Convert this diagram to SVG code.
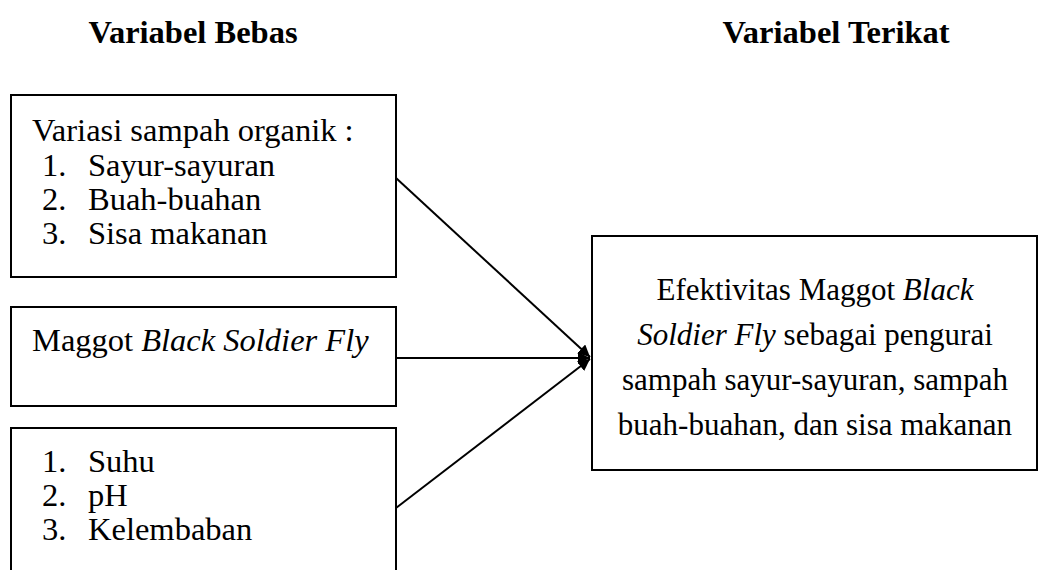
<svg xmlns="http://www.w3.org/2000/svg" width="1039" height="570" viewBox="0 0 1039 570">
<style>
text{font-family:"Liberation Serif","Times New Roman",serif;font-size:32.5px;fill:#000}
.r text{font-size:31px}
.h{font-weight:bold}
.i{font-style:italic}
.box{fill:#fff;stroke:#000;stroke-width:2}
.c{stroke:#000;stroke-width:2;fill:none}
</style>
<defs>
<marker id="ah" viewBox="0 0 10 10" refX="10" refY="5" markerWidth="6" markerHeight="6" orient="auto" markerUnits="strokeWidth">
<path d="M0,0 L10,5 L0,10 z" fill="#000"/>
</marker>
</defs>
<rect width="1039" height="570" fill="#fff"/>
<g id="headers">
<text class="h" x="193" y="43" text-anchor="middle">Variabel Bebas</text>
<text class="h" x="836" y="43" text-anchor="middle">Variabel Terikat</text>
</g>
<g id="node-variasi">
<rect class="box" x="11" y="95" width="385" height="182"/>
<text x="32" y="141">Variasi sampah organik :</text>
<text x="42" y="176">1.</text><text x="88" y="176">Sayur-sayuran</text>
<text x="42" y="210">2.</text><text x="88" y="210">Buah-buahan</text>
<text x="42" y="244">3.</text><text x="88" y="244">Sisa makanan</text>
</g>
<g id="node-maggot">
<rect class="box" x="11" y="307" width="385" height="99"/>
<text x="32" y="351">Maggot <tspan class="i">Black Soldier Fly</tspan></text>
</g>
<g id="node-faktor">
<rect class="box" x="11" y="428" width="385" height="160"/>
<text x="42" y="472">1.</text><text x="88" y="472">Suhu</text>
<text x="42" y="506">2.</text><text x="88" y="506">pH</text>
<text x="42" y="540">3.</text><text x="88" y="540">Kelembaban</text>
</g>
<g id="node-efektivitas" class="r">
<rect class="box" x="592" y="236" width="445" height="234"/>
<text x="815" y="300" text-anchor="middle">Efektivitas Maggot <tspan class="i">Black</tspan></text>
<text x="815" y="345" text-anchor="middle"><tspan class="i">Soldier Fly</tspan> sebagai pengurai</text>
<text x="815" y="390" text-anchor="middle">sampah sayur-sayuran, sampah</text>
<text x="815" y="435" text-anchor="middle">buah-buahan, dan sisa makanan</text>
</g>
<g id="connectors">
<line class="c" x1="396" y1="178" x2="590" y2="357" marker-end="url(#ah)"/>
<line class="c" x1="396" y1="358" x2="590" y2="358" marker-end="url(#ah)"/>
<line class="c" x1="396" y1="508" x2="590" y2="359" marker-end="url(#ah)"/>
</g>
</svg>
